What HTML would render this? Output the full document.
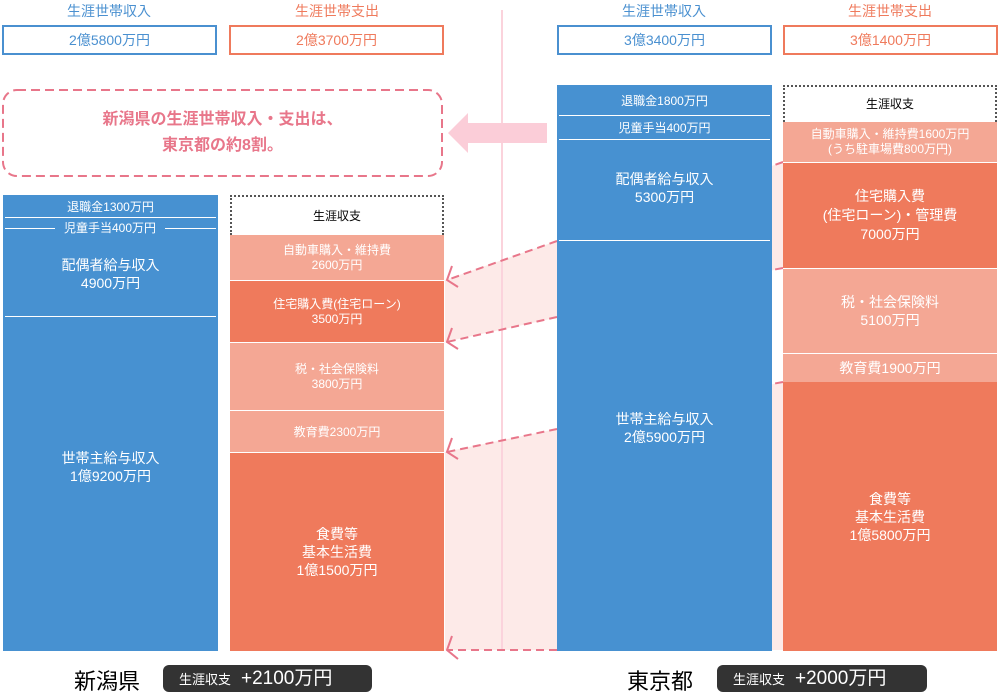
<!DOCTYPE html>
<html><head><meta charset="utf-8"><style>
*{margin:0;padding:0;box-sizing:border-box}
body{width:1000px;height:699px;background:#fff;position:relative;overflow:hidden;font-family:"Liberation Sans","Noto Sans CJK JP",sans-serif}
.a{position:absolute}
.hd{font-size:14px;text-align:center;width:214px;top:1px}
.bx{height:30px;top:25px;border:2px solid;font-size:14px;text-align:center;line-height:26px;width:215px}
.b{background:#4791d1}
.d{background:#ef7a5c}
.l{background:#f4a794}
.c{color:#fff;text-align:center;font-size:14px;line-height:18px;display:flex;flex-direction:column;justify-content:center;align-items:center}
.hl{height:1px;background:#fff}
.dot{border:2px dotted #555;border-bottom:none;background:#fff;font-size:12px;text-align:center}
.badge{background:#333;color:#fff;border-radius:6px;height:27px;top:665px;font-size:19px;line-height:27px;padding-left:16px}
.badge small{font-size:13px;margin-right:10px}
</style></head><body>
<svg class="a" style="left:0;top:0" width="1000" height="699">
<polygon points="783,162 445,280 445,342 783,268" fill="#fdeae8"/>
<polygon points="783,382 445,452 445,650 783,650" fill="#fdeae8"/>
<rect x="501" y="10" width="2" height="640" fill="#fbd3dc"/>
<g stroke="#e8768a" stroke-width="2" stroke-dasharray="8,5" fill="none">
<line x1="557" y1="241" x2="447" y2="280"/>
<line x1="557" y1="317" x2="447" y2="342"/>
<line x1="557" y1="429" x2="447" y2="452"/>
<line x1="557" y1="650" x2="447" y2="650"/>
<line x1="783" y1="162" x2="772" y2="166"/>
<line x1="783" y1="268" x2="772" y2="270"/>
<line x1="783" y1="382" x2="772" y2="384"/>
</g>
<g stroke="#e8768a" stroke-width="2" fill="none">
<path d="M452,266 L447,280 L458,287"/>
<path d="M452,328 L447,342 L458,349"/>
<path d="M452,438 L447,452 L458,459"/>
<path d="M452,636 L447,650 L458,659"/>
</g>
<polygon points="448,133 468,113 468,123 547,123 547,143 468,143 468,153" fill="#fbcdd8"/>
<rect x="3" y="90" width="439" height="86" rx="14" fill="none" stroke="#e8768a" stroke-width="2" stroke-dasharray="9,5"/>
</svg>
<div class="a hd" style="left:2px;color:#4a90d0">生涯世帯収入</div>
<div class="a hd" style="left:230px;color:#ef7a5c">生涯世帯支出</div>
<div class="a hd" style="left:557px;color:#4a90d0">生涯世帯収入</div>
<div class="a hd" style="left:783px;color:#ef7a5c">生涯世帯支出</div>
<div class="a bx" style="left:2px;border-color:#4a90d0;color:#4a90d0">2億5800万円</div>
<div class="a bx" style="left:229px;border-color:#ef7a5c;color:#ef7a5c">2億3700万円</div>
<div class="a bx" style="left:557px;border-color:#4a90d0;color:#4a90d0">3億3400万円</div>
<div class="a bx" style="left:783px;border-color:#ef7a5c;color:#ef7a5c">3億1400万円</div>
<div class="a" style="left:3px;top:107px;width:439px;text-align:center;color:#e8768a;font-size:16px;line-height:26px;font-weight:bold">新潟県の生涯世帯収入・支出は、<br>東京都の約8割。</div>

<div class="a b" style="left:3px;top:195px;width:215px;height:456px"></div>
<div class="a c" style="left:3px;top:198px;width:215px;height:18px;font-size:12px">退職金1300万円</div>
<div class="a hl" style="left:5px;top:217px;width:211px"></div>
<div class="a hl" style="left:5px;top:228px;width:211px"></div>
<div class="a c" style="left:55px;top:219px;width:110px;height:18px;font-size:12px;background:#4791d1">児童手当400万円</div>
<div class="a c" style="left:3px;top:256px;width:215px">配偶者給与収入<br>4900万円</div>
<div class="a hl" style="left:5px;top:316px;width:211px"></div>
<div class="a c" style="left:3px;top:449px;width:215px">世帯主給与収入<br>1億9200万円</div>

<div class="a dot" style="left:230px;top:195px;width:214px;height:40px;line-height:38px">生涯収支</div>
<div class="a l c" style="left:230px;top:235px;width:214px;height:45px;font-size:12px;line-height:15px">自動車購入・維持費<br>2600万円</div>
<div class="a d c" style="left:230px;top:280px;width:214px;height:62px;font-size:12px;line-height:15px;border-top:1px solid #fff">住宅購入費(住宅ローン)<br>3500万円</div>
<div class="a l c" style="left:230px;top:342px;width:214px;height:68px;font-size:12px;line-height:15px;border-top:1px solid #fff">税・社会保険料<br>3800万円</div>
<div class="a l c" style="left:230px;top:410px;width:214px;height:42px;font-size:12px;border-top:1px solid #fff">教育費2300万円</div>
<div class="a d c" style="left:230px;top:452px;width:214px;height:199px;border-top:1px solid #fff">食費等<br>基本生活費<br>1億1500万円</div>

<div class="a b" style="left:557px;top:85px;width:215px;height:566px"></div>
<div class="a c" style="left:557px;top:90px;width:215px;height:22px;font-size:12px">退職金1800万円</div>
<div class="a hl" style="left:559px;top:115px;width:211px"></div>
<div class="a c" style="left:557px;top:117px;width:215px;height:22px;font-size:12px">児童手当400万円</div>
<div class="a hl" style="left:559px;top:139px;width:211px"></div>
<div class="a c" style="left:557px;top:170px;width:215px">配偶者給与収入<br>5300万円</div>
<div class="a hl" style="left:559px;top:240px;width:211px"></div>
<div class="a c" style="left:557px;top:410px;width:215px">世帯主給与収入<br>2億5900万円</div>

<div class="a dot" style="left:783px;top:85px;width:214px;height:37px;line-height:34px">生涯収支</div>
<div class="a l c" style="left:783px;top:122px;width:214px;height:40px;font-size:12px;line-height:15px">自動車購入・維持費1600万円<br>(うち駐車場費800万円)</div>
<div class="a d c" style="left:783px;top:162px;width:214px;height:106px;line-height:19px;border-top:1px solid #fff">住宅購入費<br>(住宅ローン)・管理費<br>7000万円</div>
<div class="a l c" style="left:783px;top:268px;width:214px;height:85px;border-top:1px solid #fff">税・社会保険料<br>5100万円</div>
<div class="a l c" style="left:783px;top:353px;width:214px;height:29px;border-top:1px solid #fff">教育費1900万円</div>
<div class="a d c" style="left:783px;top:382px;width:214px;height:269px">食費等<br>基本生活費<br>1億5800万円</div>

<div class="a" style="left:74px;top:664px;font-size:22px">新潟県</div>
<div class="a badge" style="left:163px;width:209px"><small>生涯収支</small>+2100万円</div>
<div class="a" style="left:627px;top:664px;font-size:22px">東京都</div>
<div class="a badge" style="left:717px;width:210px"><small>生涯収支</small>+2000万円</div>
</body></html>
